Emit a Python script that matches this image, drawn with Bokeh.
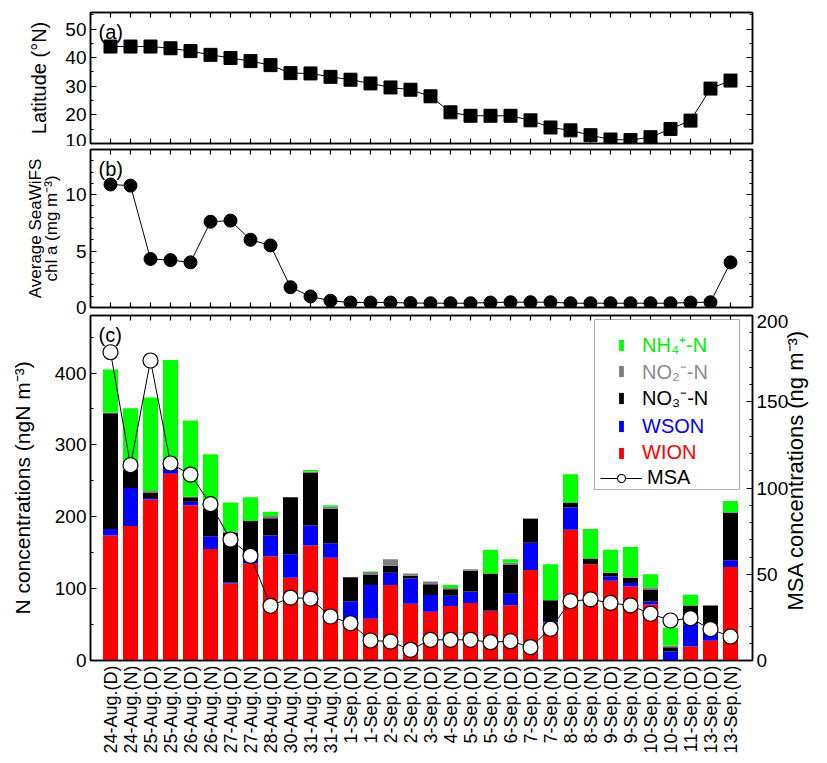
from math import pi
from bokeh.plotting import figure
from bokeh.models import (Range1d, LinearAxis, FixedTicker, SingleIntervalTicker,
                          Legend, LegendItem, Label, BoxAnnotation, ColumnDataSource,
                          CustomLabelingPolicy)
from bokeh.layouts import column
from bokeh.embed import file_html
from bokeh.resources import INLINE

# ---------------- data ----------------
samples = ["24-Aug.(D)", "24-Aug.(N)", "25-Aug.(D)", "25-Aug.(N)", "26-Aug.(D)", "26-Aug.(N)",
           "27-Aug.(D)", "27-Aug.(N)", "28-Aug.(D)", "30-Aug.(N)", "31-Aug.(D)", "31-Aug.(N)",
           "1-Sep.(D)", "1-Sep.(N)", "2-Sep.(D)", "2-Sep.(N)", "3-Sep.(D)", "4-Sep.(N)",
           "5-Sep.(D)", "5-Sep.(N)", "6-Sep.(D)", "7-Sep.(D)", "7-Sep.(N)", "8-Sep.(D)",
           "8-Sep.(N)", "9-Sep.(D)", "9-Sep.(N)", "10-Sep.(D)", "10-Sep.(N)", "11-Sep.(D)",
           "13-Sep.(D)", "13-Sep.(N)"]

latitude = [43.9, 43.9, 43.9, 43.3, 42.3, 41.0, 39.9, 38.8, 37.4, 34.6, 34.5, 33.3, 32.3, 31.0,
            29.6, 28.8, 26.5, 20.9, 19.7, 19.7, 19.7, 18.1, 15.6, 14.6, 12.9, 11.4, 11.2, 12.2,
            15.1, 18.0, 29.2, 32.0]

chla = [10.9, 10.8, 4.3, 4.2, 4.0, 7.6, 7.7, 6.0, 5.5, 1.8, 0.98, 0.6, 0.44, 0.44, 0.44, 0.4,
        0.38, 0.38, 0.38, 0.44, 0.47, 0.47, 0.47, 0.38, 0.38, 0.38, 0.38, 0.38, 0.38, 0.44,
        0.47, 4.0]

wion = [174, 187, 224, 260, 216, 155, 107, 135, 145, 115, 160, 143, 48, 58, 105, 79, 68, 76,
        80, 69, 77, 126, 53, 182, 134, 111, 103, 78, 0, 19.5, 27.5, 130]
wson = [9, 53, 2, 6, 5, 18, 2, 15, 29, 33, 28, 20, 34, 47, 17, 35, 23, 14, 16, 1, 16, 38, 2,
        31, 0, 6, 5, 4, 12.5, 30.5, 22.5, 9.5]
no3 = [161, 25, 7, 11, 6, 38, 69, 44, 24, 79, 73, 48, 34, 14, 10, 4, 15, 9, 29, 51, 40, 33,
       29, 7, 8, 5, 7, 16, 6, 26.5, 26.5, 66.5]
no2 = [1, 0, 3, 0, 1, 0, 1, 0, 3, 0, 2, 3, 0, 4, 9, 3, 4, 2, 2, 0, 3, 1, 0, 0, 0, 0, 1, 4,
       2.5, 0, 0, 0]
nh4 = [60, 86, 130, 141, 106, 76, 41, 33, 6, 0, 2, 2, 0, 1, 0, 0, 0, 4, 0, 33, 5, 0, 50, 39,
       41, 32, 42, 18, 25, 15, 0, 16]

msa = [178.7, 113.2, 173.9, 114.2, 107.8, 90.6, 70.1, 60.7, 31.7, 36.5, 35.9, 25.5, 21.6,
       11.6, 11.0, 6.2, 12.0, 12.0, 12.0, 10.6, 11.2, 7.7, 18.4, 34.4, 35.4, 33.4, 31.9, 27.1,
       23.2, 24.5, 18.2, 13.9]

msa_title = "MSA concentrations (ng m⁻³)"

# ---------------- style ----------------
FONT = "Liberation Sans"
xs = list(range(len(samples)))
FRAME_W = 662
NO_LABELS = "for (const i of indices) indices.unset(i)"


def style(ax, show_labels=True, tick_in=6, minor_in=3):
    ax.axis_line_width = 1.5
    ax.axis_line_color = "black"
    ax.major_tick_in = tick_in
    ax.major_tick_out = 0
    ax.minor_tick_in = minor_in
    ax.minor_tick_out = 0
    ax.major_tick_line_width = 1.2
    ax.minor_tick_line_width = 1.2
    ax.major_label_text_font = FONT
    ax.major_label_text_color = "black"
    ax.axis_label_text_font = FONT
    ax.axis_label_text_font_style = "normal"
    ax.axis_label_text_color = "black"
    if show_labels:
        ax.major_label_text_font_size = "19px"
        ax.major_label_standoff = 4
    else:
        ax.major_label_policy = CustomLabelingPolicy(code=NO_LABELS)
        ax.major_label_text_font_size = "0px"
        ax.major_label_standoff = 0


def make_fig(frame_h, yr, top, bottom):
    p = figure(frame_width=FRAME_W, frame_height=frame_h,
               x_range=Range1d(-1, 32.1), y_range=Range1d(*yr),
               output_backend="svg", toolbar_location=None,
               x_axis_location=None, y_axis_location=None,
               min_border_left=90, min_border_right=73,
               min_border_top=top, min_border_bottom=bottom)
    p.xgrid.visible = False
    p.ygrid.visible = False
    p.outline_line_color = "black"
    p.outline_line_width = 1.5
    p.background_fill_color = "white"
    p.border_fill_color = "white"
    return p


def add_x_axes(p, bottom_labels=False):
    top_ax = LinearAxis(ticker=FixedTicker(ticks=xs, minor_ticks=[]))
    style(top_ax, show_labels=False, tick_in=5)
    p.add_layout(top_ax, "above")
    bot_ax = LinearAxis(ticker=FixedTicker(ticks=xs, minor_ticks=[]))
    if bottom_labels:
        style(bot_ax, show_labels=True, tick_in=0)
        bot_ax.major_label_overrides = {i: s for i, s in enumerate(samples)}
        bot_ax.major_label_orientation = pi / 2
        bot_ax.major_label_text_font_size = "18px"
        bot_ax.major_label_standoff = 5
    else:
        style(bot_ax, show_labels=False, tick_in=5)
    p.add_layout(bot_ax, "below")


def panel_label(p, txt, frame_h):
    p.add_layout(Label(x=8, y=frame_h - 19, x_units="screen", y_units="screen", text=txt,
                       text_font=FONT, text_font_size="20px", text_baseline="middle",
                       text_color="black"))


# ---------------- panel (a) ----------------
pa = make_fig(131, (10, 55.8), 12, 3)
add_x_axes(pa)
la = LinearAxis(ticker=SingleIntervalTicker(interval=10, num_minor_ticks=2),
                axis_label="Latitude (°N)")
style(la)
la.axis_label_text_font_size = "20px"
la.axis_label_standoff = 12
pa.add_layout(la, "left")
ra = LinearAxis(ticker=SingleIntervalTicker(interval=10, num_minor_ticks=2))
style(ra, show_labels=False)
pa.add_layout(ra, "right")
pa.line(xs, latitude, line_color="black", line_width=1)
pa.scatter(xs, latitude, marker="square", size=13, fill_color="black", line_color="black")
panel_label(pa, "(a)", 131)

# ---------------- panel (b) ----------------
pb = make_fig(158, (0, 14), 3, 7)
add_x_axes(pb)
lb = LinearAxis(ticker=SingleIntervalTicker(interval=5, num_minor_ticks=5),
                axis_label="Average SeaWiFS\nchl a (mg m⁻³)")
style(lb)
lb.axis_label_text_font_size = "17px"
lb.axis_label_text_line_height = 0.85
lb.axis_label_standoff = 1
pb.add_layout(lb, "left")
rb = LinearAxis(ticker=SingleIntervalTicker(interval=5, num_minor_ticks=5))
style(rb, show_labels=False)
pb.add_layout(rb, "right")
pb.line(xs, chla, line_color="black", line_width=1)
pb.scatter(xs, chla, marker="circle", size=13, fill_color="black", line_color="black")
panel_label(pb, "(b)", 158)

# ---------------- panel (c) ----------------
FRAME_C = 345
pc = make_fig(FRAME_C, (0, 480), 1, 102)
pc.extra_y_ranges = {"msa": Range1d(0, 200)}
add_x_axes(pc, bottom_labels=True)
lc = LinearAxis(ticker=SingleIntervalTicker(interval=100, num_minor_ticks=2),
                axis_label="N concentrations (ngN m⁻³)")
style(lc)
lc.axis_label_text_font_size = "21px"
lc.axis_label_standoff = 18
pc.add_layout(lc, "left")
rc = LinearAxis(y_range_name="msa", ticker=SingleIntervalTicker(interval=50, num_minor_ticks=5))
style(rc)
pc.add_layout(rc, "right")
# right-hand title drawn as the single label of a bare axis so it reads bottom to top
title_ax = LinearAxis(y_range_name="msa", ticker=FixedTicker(ticks=[29], minor_ticks=[]),
                      major_label_overrides={29: msa_title})
title_ax.axis_line_alpha = 0
title_ax.major_tick_in = 0
title_ax.major_tick_out = 0
title_ax.minor_tick_in = 0
title_ax.minor_tick_out = 0
title_ax.major_label_orientation = pi / 2
title_ax.major_label_text_font = FONT
title_ax.major_label_text_font_size = "22px"
title_ax.major_label_text_color = "black"
title_ax.major_label_standoff = 4
pc.add_layout(title_ax, "right")

src = ColumnDataSource(dict(x=xs, wion=wion, wson=wson, no3=no3, no2=no2, nh4=nh4))
stack_cols = ["wion", "wson", "no3", "no2", "nh4"]
bar_colors = ["#FF0000", "#0000FF", "#000000", "#7F7F7F", "#00FF00"]
bars = pc.vbar_stack(stack_cols, x="x", width=0.75, source=src,
                     fill_color=bar_colors, line_color=None)
msa_line = pc.line(xs, msa, y_range_name="msa", line_color="black", line_width=1)
msa_pts = pc.scatter(xs, msa, y_range_name="msa", marker="circle", size=15,
                     fill_color="white", line_color="black", line_width=1.2)
panel_label(pc, "(c)", FRAME_C)

# legend frame (screen px from frame bottom-left)
pc.add_layout(BoxAnnotation(left=504, right=649, bottom=171, top=341,
                            left_units="screen", right_units="screen",
                            bottom_units="screen", top_units="screen",
                            fill_color="white", fill_alpha=1.0,
                            line_color="black", line_width=1.2, level="overlay"))

legend_entries = [
    ("NH₄⁺-N", [bars[4]], "#00EE00", 6),
    ("NO₂⁻-N", [bars[3]], "#8C8C8C", 6),
    ("NO₃⁻-N", [bars[2]], "#000000", 6),
    ("WSON", [bars[1]], "#0000FF", 6),
    ("WION", [bars[0]], "#FF0000", 6),
    ("MSA", [msa_line, msa_pts], "#000000", 42),
]
row_centers = [344, 370.6, 397.2, 423.8, 450.4, 477]
for (lab, rends, col, gw), yc in zip(legend_entries, row_centers):
    bar_item = gw == 6
    gh = 14 if bar_item else 20
    y1 = yc - (8 if bar_item else 10) - 315
    xpos = 528 if bar_item else 510
    lg = Legend(items=[LegendItem(label=lab, renderers=rends)],
                location=(xpos, FRAME_C - (y1 + 22)),
                glyph_width=gw, glyph_height=gh, label_height=22,
                label_standoff=18 if bar_item else 5,
                label_text_font=FONT, label_text_font_size="20px",
                label_text_color=col, padding=0, margin=0, spacing=0,
                border_line_alpha=0, background_fill_alpha=0)
    pc.add_layout(lg)

layout = column(pa, pb, pc, spacing=0)
open("out.html", "w").write(file_html(layout, INLINE))
